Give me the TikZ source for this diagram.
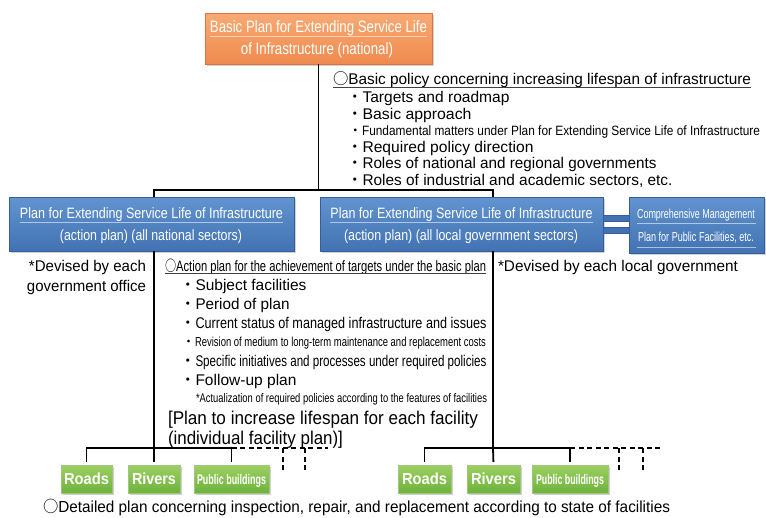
\documentclass[tikz,border=0pt]{standalone}
\usepackage{fontspec}
\setmainfont{Liberation Sans}
\newfontfamily\cjk{Noto Sans CJK JP}
\usepackage{graphicx}
\usetikzlibrary{shadows}

\definecolor{orT}{RGB}{248,170,116}
\definecolor{orB}{RGB}{240,138,78}
\definecolor{orD}{RGB}{220,116,60}
\definecolor{blT}{RGB}{98,148,208}
\definecolor{blB}{RGB}{66,114,178}
\definecolor{blD}{RGB}{52,94,156}
\definecolor{grT}{RGB}{156,208,98}
\definecolor{grB}{RGB}{110,178,60}
\definecolor{grD}{RGB}{160,196,130}

% font size helper and horizontal fit (keeps natural height)
\newcommand\fsz[1]{\fontsize{#1}{#1}\selectfont}
\newcommand\fitw[2]{\resizebox{#1pt}{\height}{#2}}
\newcommand\bul{{\cjk ・}}
\newcommand\ocirc{{\cjk ○}}

\begin{document}
\begin{tikzpicture}[x=1pt,y=-1pt,
  boxbase/.style={inner sep=0pt, outer sep=0pt,
    drop shadow={opacity=0.35, shadow xshift=1.6pt, shadow yshift=-1.8pt}},
  obox/.style={boxbase, draw=orD, line width=0.8pt, top color=orT, bottom color=orB},
  bbox/.style={boxbase, draw=blD, line width=0.8pt, top color=blT, bottom color=blB},
  gbox/.style={boxbase, draw=grD, line width=1pt, top color=grT, bottom color=grB,
    minimum height=28pt},
  bar/.style={draw=blD, line width=0.8pt, fill=blB},
  sep/.style={draw=white, opacity=0.55, line width=0.8pt},
  wtxt/.style={inner sep=0pt, outer sep=0pt, anchor=base, text=white},
  txt/.style={inner sep=0pt, outer sep=0pt, anchor=base west, text=black},
  rtxt/.style={inner sep=0pt, outer sep=0pt, anchor=base east, text=black},
  conn/.style={line width=1.8pt, black},
  dconn/.style={conn, dash pattern=on 5pt off 3.5pt},
  uline/.style={line width=0.9pt, black!75}]

\useasboundingbox (0,0) rectangle (766,517);
\fill[white] (0,0) rectangle (766,517);

% ---- top plan
\node[obox, minimum width=227pt, minimum height=51pt] (basic) at (318.5,38.5) {};
\draw[sep] (210,36) -- (427,36);
\node[wtxt, font=\fsz{16.5}] (basicA) at (318.5,32) {\fitw{217}{Basic Plan for Extending Service Life}};
\node[wtxt, font=\fsz{16.5}] (basicB) at (317,54) {\fitw{152}{of Infrastructure (national)}};

% ---- basic policy list
\node[txt, font=\fsz{15.5}] (hdrR) at (333,84.6) {\fitw{418}{\ocirc Basic policy concerning increasing lifespan of infrastructure}};
\draw[uline] ([yshift=-2.6pt]hdrR.base west) -- ([yshift=-2.6pt]hdrR.base east);
\node[txt, font=\fsz{15.5}] (r1) at (347,102.6) {\bul\fitw{147}{Targets and roadmap}};
\node[txt, font=\fsz{15.5}] (r2) at (347,119.6) {\bul\fitw{109}{Basic approach}};
\node[txt, font=\fsz{13.5}] (r3) at (348.5,135) {\bul\fitw{398}{Fundamental matters under Plan for Extending Service Life of Infrastructure}};
\node[txt, font=\fsz{15.5}] (r4) at (347,152.6) {\bul\fitw{171}{Required policy direction}};
\node[txt, font=\fsz{15.5}] (r5) at (347,168.6) {\bul\fitw{294}{Roles of national and regional governments}};
\node[txt, font=\fsz{15.5}] (r6) at (347,185.6) {\bul\fitw{310}{Roles of industrial and academic sectors, etc.}};

% ---- action plans
\node[bbox, minimum width=285pt, minimum height=54pt] (natl) at (151.5,224) {};
\draw[sep] (20,222) -- (283,222);
\node[wtxt, font=\fsz{15}] (natlA) at (151.5,218.4) {\fitw{263}{Plan for Extending Service Life of Infrastructure}};
\node[wtxt, font=\fsz{15}] (natlB) at (151,240.4) {\fitw{182}{(action plan) (all national sectors)}};

\node[bbox, minimum width=283pt, minimum height=54pt] (local) at (461.5,224) {};
\draw[sep] (330,222) -- (593,222);
\node[wtxt, font=\fsz{15}] (localA) at (461.5,218.4) {\fitw{262}{Plan for Extending Service Life of Infrastructure}};
\node[wtxt, font=\fsz{15}] (localB) at (461,240.4) {\fitw{234}{(action plan) (all local government sectors)}};

\node[bbox, minimum width=135pt, minimum height=56pt] (comp) at (696.5,225) {};
\draw[sep] (637,223.5) -- (756,223.5);
\draw[sep] (637,247) -- (756,247);
\node[wtxt, font=\fsz{13}] (compA) at (696,218.6) {\fitw{118}{Comprehensive Management}};
\node[wtxt, font=\fsz{13}] (compB) at (696,241.6) {\fitw{116}{Plan for Public Facilities, etc.}};

% double link between local plan and comprehensive plan
\draw[bar] (local.east |- 0,215) rectangle (comp.west |- 0,221);
\draw[bar] (local.east |- 0,227) rectangle (comp.west |- 0,233);

% ---- tree connectors from top plan
\coordinate (jL) at (154,190);
\coordinate (jR) at (493,190);
\draw[conn] (basic.south) -- (basic.south |- jL);
\draw[conn] (natl.north -| jL) -- (jL) -- (jR) -- (local.north -| jR);

% ---- notes
\node[rtxt, font=\fsz{15.5}] (devA) at (146,271.6) {\fitw{117}{*Devised by each}};
\node[rtxt, font=\fsz{15.5}] (devB) at (146,291.6) {\fitw{119}{government office}};
\node[txt, font=\fsz{15.5}] (devC) at (498,271.6) {\fitw{240}{*Devised by each local government}};

% ---- action plan contents
\node[txt, font=\fsz{15}] (hdrL) at (165,271.4) {\fitw{321}{\ocirc Action plan for the achievement of targets under the basic plan}};
\draw[uline] ([yshift=-2.4pt]hdrL.base west) -- ([yshift=-2.4pt]hdrL.base east);
\node[txt, font=\fsz{15.5}] (l1) at (180,290.6) {\bul\fitw{111}{Subject facilities}};
\node[txt, font=\fsz{15.5}] (l2) at (180,309.6) {\bul\fitw{94}{Period of plan}};
\node[txt, font=\fsz{15.5}] (l3) at (180,328.6) {\bul\fitw{291}{Current status of managed infrastructure and issues}};
\node[txt, font=\fsz{13}] (l4) at (182,346.7) {\bul\fitw{291}{Revision of medium to long-term maintenance and replacement costs}};
\node[txt, font=\fsz{15.5}] (l5) at (180,366.6) {\bul\fitw{291}{Specific initiatives and processes under required policies}};
\node[txt, font=\fsz{15.5}] (l6) at (180,385.6) {\bul\fitw{101}{Follow-up plan}};
\node[txt, font=\fsz{12.5}] (l7) at (196,402.5) {\fitw{291}{*Actualization of required policies according to the features of facilities}};
\node[txt, font=\fsz{18.5}] (ind1) at (168,424.7) {\fitw{310}{[Plan to increase lifespan for each facility}};
\node[txt, font=\fsz{18.5}] (ind2) at (168,444.7) {\fitw{175}{(individual facility plan)]}};

% ---- facility boxes
\node[gbox, minimum width=51pt] (roadL) at (86.5,479) {};
\node[gbox, minimum width=52pt] (rivL) at (154,479) {};
\node[gbox, minimum width=75pt] (pubL) at (231.5,479) {};
\node[gbox, minimum width=53pt] (roadR) at (424.5,479) {};
\node[gbox, minimum width=53pt] (rivR) at (493.5,479) {};
\node[gbox, minimum width=76pt] (pubR) at (570,479) {};
\foreach \n/\w in {roadL/45, roadR/45}{
  \node[wtxt, font=\bfseries\fsz{16}] at ([yshift=-5.8pt]\n.center) {\fitw{\w}{Roads}};}
\foreach \n/\w in {rivL/44, rivR/45}{
  \node[wtxt, font=\bfseries\fsz{16}] at ([yshift=-5.8pt]\n.center) {\fitw{\w}{Rivers}};}
\foreach \n/\w in {pubL/69, pubR/68}{
  \node[wtxt, font=\bfseries\fsz{14}] at ([yshift=-5pt]\n.center) {\fitw{\w}{Public buildings}};}

% ---- branches down to the facilities
\coordinate (bL) at (154,448);
\coordinate (bR) at (493,448);
\draw[conn] (natl.south -| bL) -- (bL);
\draw[conn, shorten >=3pt] (bL) -| (roadL.north);
\draw[conn, shorten >=3pt] (bL) -- (rivL.north);
\draw[conn, shorten >=3pt] (bL) -| (pubL.north);
\draw[conn] (local.south -| bR) -- (bR);
\draw[conn, shorten >=3pt] (bR) -| (roadR.north);
\draw[conn, shorten >=3pt] (bR) -- (rivR.north);
\draw[conn, shorten >=3pt] (bR) -| (pubR.north);

% further facilities (open ends)
\coordinate (eL) at (328,448);
\coordinate (dL1) at (283,472);
\coordinate (dL2) at (305,472);
\draw[dconn] (pubL.north |- bL) -- (eL);
\draw[dconn] (dL1 |- bL) -- (dL1);
\draw[dconn] (dL2 |- bL) -- (dL2);
\coordinate (eR) at (661,448);
\coordinate (dR1) at (619,472);
\coordinate (dR2) at (643,472);
\draw[dconn] (pubR.north |- bR) -- (eR);
\draw[dconn] (dR1 |- bR) -- (dR1);
\draw[dconn] (dR2 |- bR) -- (dR2);

% ---- bottom note
\node[txt, font=\fsz{16}] (det) at (43,512.6) {\fitw{627}{\ocirc Detailed plan concerning inspection, repair, and replacement according to state of facilities}};
\end{tikzpicture}
\end{document}
